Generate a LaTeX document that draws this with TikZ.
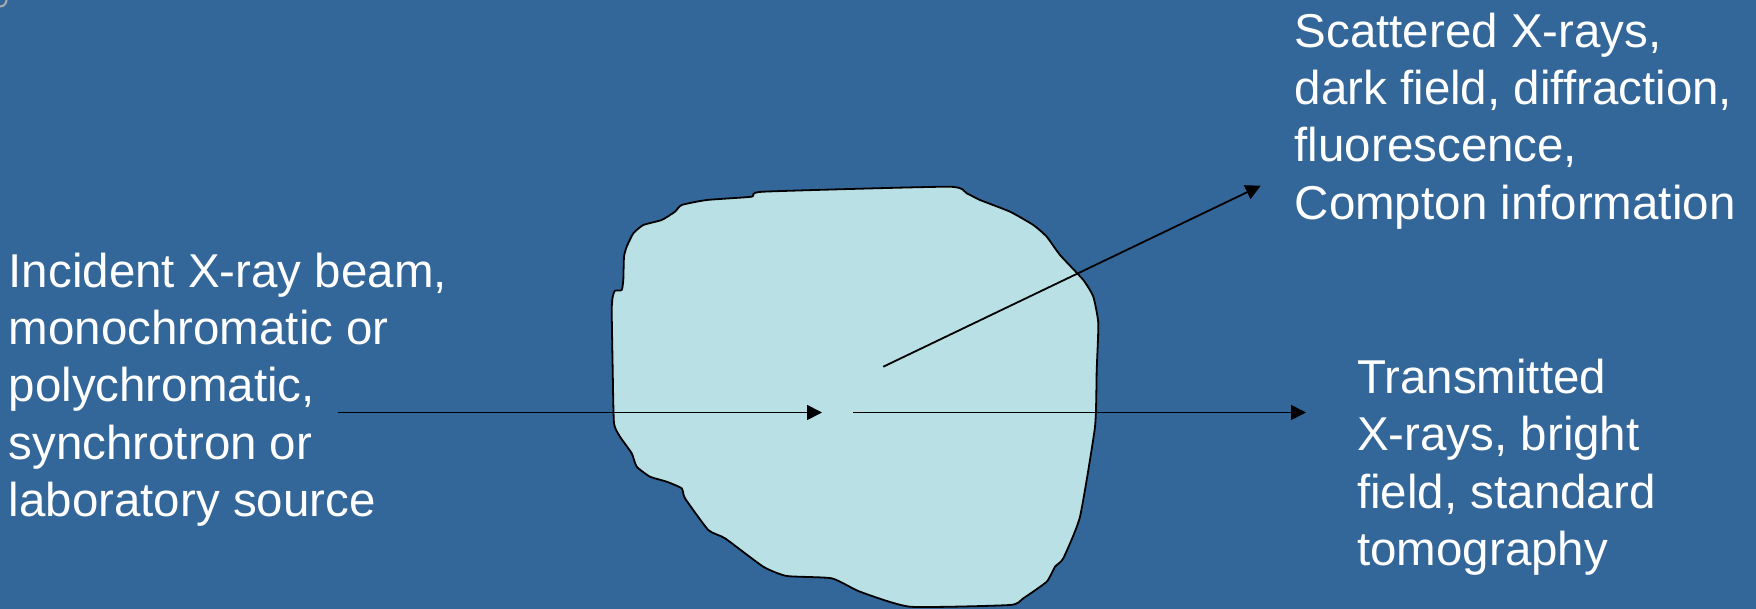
\documentclass[tikz,border=0pt]{standalone}
\usepackage{fontspec}
\setmainfont{Liberation Sans}
\usetikzlibrary{arrows.meta}
\definecolor{bgblue}{RGB}{51,102,153}
\definecolor{blobfill}{RGB}{185,224,228}
\definecolor{cornergrey}{RGB}{170,170,175}
\tikzset{
  label/.style={anchor=north west, inner sep=0pt, align=left, text=white,
    font={\fontsize{47.5}{57.3}\selectfont}},
  ray/.style={line width=1.8pt, draw=black, -{Triangle[length=15pt,width=15pt]}},
  plainray/.style={line width=1.8pt, draw=black},
  blob/.style={fill=blobfill, draw=black, line width=1.8pt, line join=round}
}
\begin{document}
\begin{tikzpicture}[x=1pt,y=-1pt]
\useasboundingbox (0,0) rectangle (1756,609);
\fill[bgblue] (0,0) rectangle (1756,609);
\begin{scope}
\clip (0,0) rectangle (1756,609);
\draw[cornergrey, line width=2pt] (0,0) circle (6.5);
\end{scope}

% sample blob
\draw[blob] plot[smooth cycle, tension=0.3] coordinates {
 (948.3,186.7) (763.3,191.7) (751.7,196.7) (706.7,200) (681.7,205)
 (675,211.7) (661.7,220) (643.3,225) (633.3,233.3) (626.7,246.7)
 (624,256.7) (623.3,280) (621.7,290) (615,290.7) (612.7,296.7)
 (611.7,310) (612.7,370) (614,423.3) (620,436.7) (631.7,453.3)
 (636.7,466.7) (650,476.7) (666.7,481.7) (681.7,488.3) (685,498.3)
 (708.3,530) (725,538.3) (763.3,566.7) (786.7,576) (831.7,578.3)
 (860,591.7) (910,606.7) (1010,605) (1023.3,598.3) (1046.7,581.7)
 (1055,566.7) (1063.3,558.3) (1080,516.7) (1095,426.7) (1096.7,370)
 (1098.3,323.3) (1093.3,296.7) (1083.3,280) (1060,255) (1046.7,236.7)
 (1033.3,225) (1010,211.7) (980,200) (966.7,193.3)
};

% texts
\node[label] (scattered) at (1294.5,12.5)
  {Scattered X-rays,\\dark field, diffraction,\\fluorescence,\\Compton information};
\node[label] (incident) at (8.5,252.5)
  {Incident X-ray beam,\\monochromatic or\\polychromatic,\\synchrotron or\\laboratory source};
\node[label] (transmitted) at (1357,359)
  {Transmitted\\X-rays, bright\\field, standard\\tomography};

% ray end points
\coordinate (inStart) at (338,412.5);
\coordinate (inEnd) at (822,412.5);
\coordinate (trStart) at (853,412.5);
\coordinate (trEnd) at (1306,412.5);
\coordinate (scStart) at (883.3,366.7);
\coordinate (scEnd) at (1260.7,185.7);

\draw[ray] (inStart) -- (inEnd);
\draw[ray] (trStart) -- (trEnd);
\draw[ray] (scStart) -- (scEnd);
\end{tikzpicture}
\end{document}
